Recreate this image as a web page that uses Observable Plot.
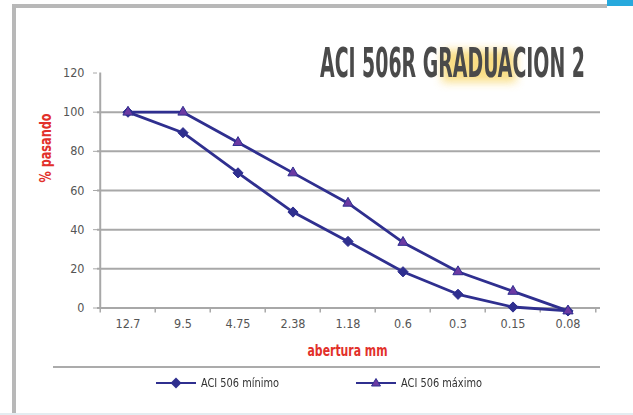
<!DOCTYPE html>
<html><head><meta charset="utf-8">
<script src="https://cdn.jsdelivr.net/npm/d3@7"></script>
<script src="https://cdn.jsdelivr.net/npm/@observablehq/plot@0.6"></script>
<style>
html,body{margin:0;padding:0;background:#fff;}
#page{position:relative;width:633px;height:415px;overflow:hidden;background:#fff;}
.abs{position:absolute;}
#chart svg{position:absolute;left:0;top:0;}
#title{position:absolute;left:320px;top:43px;white-space:nowrap;font-family:"Liberation Sans Narrow","DejaVu Sans Condensed","Liberation Sans",sans-serif;font-weight:bold;font-size:40px;color:#4a4a4a;transform-origin:0 0;line-height:1;}
#glow{position:absolute;left:442px;top:50px;width:74px;height:32px;background:#f8d870;filter:blur(5px);opacity:0.85;}
.leg{position:absolute;font-family:"Liberation Sans Narrow","DejaVu Sans Condensed","Liberation Sans",sans-serif;font-size:13px;color:#333;white-space:nowrap;line-height:16px;}
.leg span{display:inline-block;transform-origin:0 50%;}
</style></head><body>
<div id="page">
  <div class="abs" style="left:12px;top:4px;width:4px;height:411px;background:#b8b8b8"></div>
  <div class="abs" style="left:12px;top:4px;width:595px;height:4px;background:#b8b8b8"></div>
  <div class="abs" style="left:607px;top:0;width:26px;height:6px;background:#27a9dd"></div>
  <div class="abs" style="left:0;top:413px;width:633px;height:2px;background:#e4edf1"></div>
  <div class="abs" style="left:53px;top:366px;width:547px;height:2px;background:#ababab"></div>
  <div id="glow"></div>
  <div id="title"></div>
  <div id="chart"></div>
  <div id="legend"></div>
</div>
<script>
const sizes = ["12.7", "9.5", "4.75", "2.38", "1.18", "0.6", "0.3", "0.15", "0.08"];
const minimo = [100, 89.5, 69, 49, 34, 18.5, 7, 0.5, -1.5];
const maximo = [100, 100, 84.5, 69, 53.5, 33.5, 18.5, 8.5, -1.5];
const yTicks = [0, 20, 40, 60, 80, 100, 120];
const gridValues = [20, 40, 60, 80, 100];
const seriesNames = ["ACI 506 mínimo", "ACI 506 máximo"];
const titleText = "ACI 506R GRADUACION 2";
const yLabel = "% pasando";
const xLabel = "abertura mm";

const FONT = '"Liberation Sans Narrow","DejaVu Sans Condensed","Liberation Sans",sans-serif';
const NAVY = "#2f2f8f";
const PURPLE = "#6c3aa3";
const RED = "#e2302a";
const GRID = "#a8a8a8";

const minData = sizes.map((s, i) => ({size: s, value: minimo[i]}));
const maxData = sizes.map((s, i) => ({size: s, value: maximo[i]}));

const W = 633, H = 360, ML = 97, MR = 36, MT = 72.5, MB = 52.5;
const bw = (W - ML - MR) / sizes.length;

const chart = Plot.plot({
  width: W, height: H,
  marginLeft: ML, marginRight: MR, marginTop: MT, marginBottom: MB,
  style: {fontFamily: FONT, fontSize: "12.5px", color: "#555", background: "transparent", overflow: "visible"},
  x: {type: "band", domain: sizes, padding: 0, tickSize: 0, tickPadding: 11, label: null},
  y: {domain: [0, 120], ticks: yTicks, tickSize: 4, tickPadding: 9, label: null},
  marks: [
    Plot.ruleY(gridValues, {stroke: GRID, strokeWidth: 2, insetRight: -3}),
    Plot.ruleY([0], {stroke: GRID, strokeWidth: 2, insetRight: -3}),
    Plot.ruleX([sizes[0]], {y1: 0, y2: 120, dx: -bw / 2, stroke: GRID, strokeWidth: 2}),
    Plot.ruleX(sizes, {x: d => d, y1: 0, y2: -2.6, dx: -bw / 2, stroke: GRID, strokeWidth: 1.5}),
    Plot.ruleX([sizes[sizes.length - 1]], {x: d => d, y1: 0, y2: -2.6, dx: bw / 2, stroke: GRID, strokeWidth: 1.5}),
    Plot.line(minData, {x: "size", y: "value", stroke: NAVY, strokeWidth: 2.8}),
    Plot.line(maxData, {x: "size", y: "value", stroke: NAVY, strokeWidth: 2.8}),
    Plot.dot(minData, {x: "size", y: "value", symbol: "diamond2", r: 4.6, fill: NAVY, stroke: NAVY, strokeWidth: 1}),
    Plot.dot(maxData, {x: "size", y: "value", symbol: "triangle", r: 3.8, fill: PURPLE, stroke: NAVY, strokeWidth: 1}),
    Plot.text([yLabel], {frameAnchor: "left", text: d => d, rotate: -90, dx: -52, dy: -8, fill: RED, fontWeight: "bold", fontSize: 16, lineAnchor: "middle", className: "ylab"}),
    Plot.text([xLabel], {frameAnchor: "bottom", text: d => d, dy: 43, fill: RED, fontWeight: "bold", fontSize: 16, lineAnchor: "middle", className: "xlab"})
  ]
});
chart.querySelectorAll('[aria-label="y-axis tick"] path, [aria-label="y-axis tick"]').forEach(e => e.setAttribute("stroke", GRID));
// condense the axis titles to the reference widths
const fit = (sel, len) => chart.querySelectorAll(sel + " text").forEach(e => {
  e.setAttribute("textLength", len);
  e.setAttribute("lengthAdjust", "spacingAndGlyphs");
});
fit(".xlab", 80);
fit(".ylab", 69);
document.getElementById("chart").appendChild(chart);

// title, scaled to the reference width
const t = document.getElementById("title");
t.textContent = titleText;
const tw = t.getBoundingClientRect().width;
t.style.transform = `scaleX(${265 / tw})`;

// legend
const legend = document.getElementById("legend");
const items = [
  {name: seriesNames[0], x: 156, w: 78, marker: `<path d="M20,2.5 L25.5,8 L20,13.5 L14.5,8 Z" fill="${NAVY}"/>`},
  {name: seriesNames[1], x: 356, w: 81, marker: `<path d="M20,3.5 L24.5,11 L15.5,11 Z" fill="${PURPLE}" stroke="${NAVY}" stroke-width="1"/>`}
];
items.forEach(it => {
  const s = document.createElement("div");
  s.className = "leg";
  s.style.left = it.x + "px";
  s.style.top = "375px";
  s.innerHTML = `<svg width="42" height="16" style="vertical-align:top"><line x1="0" y1="8" x2="40" y2="8" stroke="${NAVY}" stroke-width="2"/>${it.marker}</svg><span style="margin-left:3px">${it.name}</span>`;
  legend.appendChild(s);
  const sp = s.querySelector("span");
  const w = sp.getBoundingClientRect().width;
  sp.style.transform = `scaleX(${it.w / w})`;
});
</script>
</body></html>
